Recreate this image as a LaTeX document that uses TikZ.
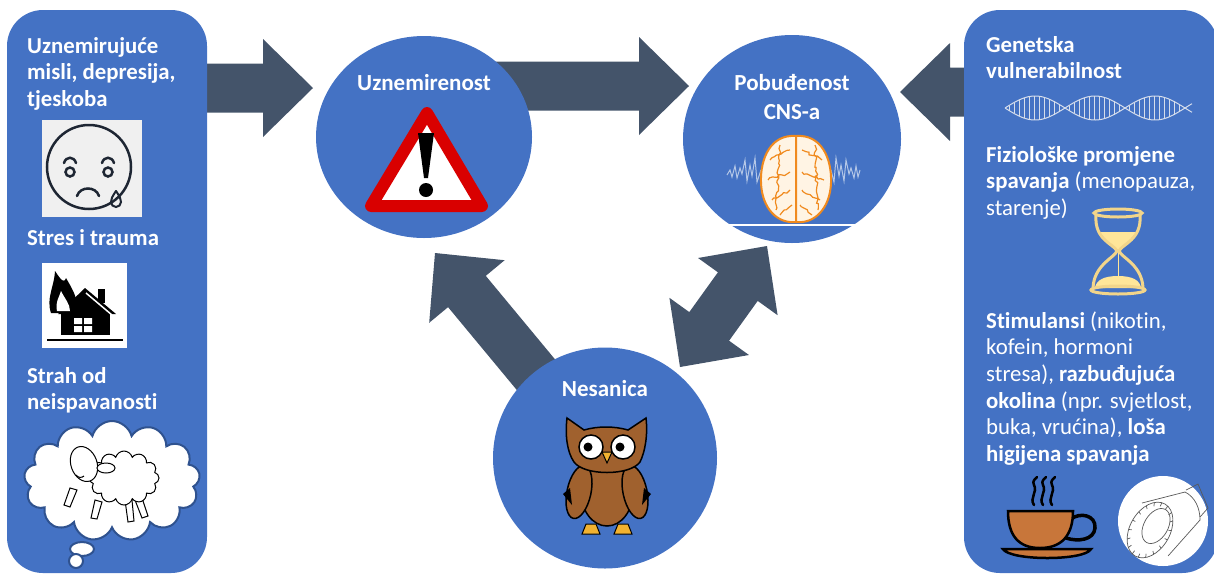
\documentclass[tikz,border=0pt]{standalone}
\usepackage{fontspec}
\setmainfont{Carlito}[Ligatures=NoCommon]
\usetikzlibrary{positioning, calc, backgrounds, shapes.geometric, shapes.symbols, decorations.pathmorphing}

\definecolor{boxblue}{HTML}{4472C4}
\definecolor{arrowgray}{HTML}{44546A}
\definecolor{cloudline}{HTML}{2F528F}
\definecolor{warnred}{HTML}{D90000}
\definecolor{faceline}{HTML}{1E2633}
\definecolor{owlbrown}{HTML}{A0612E}
\definecolor{owlbeak}{HTML}{F2B230}
\definecolor{cupbrown}{HTML}{C8763A}
\definecolor{sand}{HTML}{FFE699}
\definecolor{sandline}{HTML}{F2D58A}
\definecolor{brainorange}{HTML}{F08A1E}
\definecolor{brainfill}{HTML}{FFF4E4}
\definecolor{wavecol}{HTML}{B4C7E7}
\definecolor{dnacol}{HTML}{D6DEEC}

\tikzstyle{sidebox} = [fill=boxblue, rectangle, rounded corners=36pt, inner sep=0pt]
\tikzstyle{bubble} = [fill=boxblue, ellipse, inner sep=0pt]
\tikzstyle{boxtext} = [text=white, inner sep=0pt, anchor=base west, font=\fontsize{22.8}{26.7}\selectfont]
\tikzstyle{bubbletext} = [text=white, inner sep=0pt, anchor=base, align=center, font=\bfseries\fontsize{23}{29}\selectfont]
\tikzstyle{blockarrow} = [fill=arrowgray, to path={
    ($(\tikztotarget)!50pt!(\tikztostart)$) coordinate (hb)
    ($(\tikztostart)!24.5pt!90:(\tikztotarget)$) -- ($(hb)!24.5pt!90:(\tikztotarget)$)
    -- ($(hb)!49pt!90:(\tikztotarget)$) -- (\tikztotarget) -- ($(hb)!49pt!-90:(\tikztotarget)$)
    -- ($(hb)!24.5pt!-90:(\tikztotarget)$) -- ($(\tikztostart)!24.5pt!-90:(\tikztotarget)$) -- cycle}]
\tikzstyle{dblarrow} = [fill=arrowgray, to path={
    ($(\tikztostart)!50pt!(\tikztotarget)$) coordinate (hba)
    ($(\tikztotarget)!50pt!(\tikztostart)$) coordinate (hbb)
    (\tikztostart) -- ($(hba)!49pt!90:(\tikztotarget)$) -- ($(hba)!24.5pt!90:(\tikztotarget)$)
    -- ($(hbb)!24.5pt!90:(\tikztotarget)$) -- ($(hbb)!49pt!90:(\tikztotarget)$) -- (\tikztotarget)
    -- ($(hbb)!49pt!-90:(\tikztotarget)$) -- ($(hbb)!24.5pt!-90:(\tikztotarget)$)
    -- ($(hba)!24.5pt!-90:(\tikztotarget)$) -- ($(hba)!49pt!-90:(\tikztotarget)$) -- cycle}]

\begin{document}
\begin{tikzpicture}[x=1pt, y=-1pt]
  \useasboundingbox (0,0) rectangle (1214,574);

  % side panels and the three circles
  \node[sidebox, minimum width=200pt, minimum height=563pt] (risk) at (107,291.5) {};
  \node[sidebox, minimum width=254pt, minimum height=563pt] (cause) at (1091,291.5) {};
  \node[bubble, minimum width=216pt, minimum height=202pt] (uzn) at (424,137) {};
  \node[bubble, minimum width=218pt, minimum height=208pt] (pob) at (792,139) {};
  \node[bubble, minimum width=224pt, minimum height=221pt] (nes) at (605,458) {};

  \coordinate (tipuzn) at (313,88);
  \coordinate (tippob) at (689,86);
  \coordinate (tipcns) at (900,92);
  \coordinate (tipback) at (435,253);
  \coordinate (tiplow) at (680,367);
  \coordinate (tipup) at (767,246);

  \begin{scope}[on background layer]
    \path[blockarrow] (risk.east |- tipuzn) to (tipuzn);
    \path[blockarrow] (uzn.center |- tippob) to (tippob);
    \path[blockarrow] (cause.west |- tipcns) to (tipcns);
    \path[blockarrow] (nes.center) to (tipback);
    \path[dblarrow] (tiplow) to (tipup);
  \end{scope}

  % texts
  \node[boxtext] (risktxt) at (27,53) {\begin{minipage}[t]{180pt}\bfseries
    Uznemirujuće\\misli, depresija,\\tjeskoba\end{minipage}};
  \node[boxtext] (stresstxt) at (27,245) {\begin{minipage}[t]{180pt}\bfseries
    Stres i trauma\end{minipage}};
  \node[boxtext] (feartxt) at (27,383) {\begin{minipage}[t]{180pt}\bfseries
    Strah od\\neispavanosti\end{minipage}};
  \node[boxtext] (genetxt) at (986,52) {\begin{minipage}[t]{225pt}\bfseries
    Genetska\\vulnerabilnost\end{minipage}};
  \node[boxtext] (fiztxt) at (986,162) {\begin{minipage}[t]{225pt}
    \textbf{Fiziološke promjene}\\\textbf{spavanja} (menopauza,\\starenje)\end{minipage}};
  \node[boxtext] (stimtxt) at (986,328) {\begin{minipage}[t]{225pt}
    \textbf{Stimulansi} (nikotin,\\kofein, hormoni\\stresa), \textbf{razbuđujuća}\\
    \textbf{okolina} (npr. svjetlost,\\buka, vrućina), \textbf{loša}\\
    \textbf{higijena spavanja}\end{minipage}};

  \node[bubbletext] (uzntxt) at ([yshift=-55pt]uzn.north) {Uznemirenost};
  \node[bubbletext] (pobtxt) at ([yshift=-85pt]pob.north) {Pobuđenost\\CNS-a};
  \node[bubbletext] (nestxt) at ([yshift=-49.5pt]nes.north) {Nesanica};

  % sad face
  \fill[gray!12] (42,120) rectangle (142,217);
  \begin{scope}[faceline, line width=2.5pt, line cap=round]
    \draw (89,167) circle (42pt);
    \draw (70,172) circle (4.5pt) (108,172) circle (4.5pt);
    \draw (64,163) .. controls (66,156) and (74,156) .. (76,163);
    \draw (102,163) .. controls (104,156) and (112,156) .. (114,163);
    \draw (77,196) .. controls (80,186) and (96,186) .. (99,196);
    \draw[line width=2pt] (116,191) .. controls (112,197) and (111,199) .. (111,202)
      arc[start angle=180, end angle=360, radius=5pt] .. controls (121,199) and (120,197) .. (116,191);
  \end{scope}

  % burning house
  \fill[white] (42,263) rectangle (127,348);
  \fill (58,314) -- (85,288) -- (116,314) -- cycle;
  \fill (98,289) rectangle (105,303);
  \fill (61,312) rectangle (110,335);
  \fill[white] (74,318) rectangle (82,324) (84,318) rectangle (92,324)
    (74,326) rectangle (82,332) (84,326) rectangle (92,332);
  \draw[white, line width=1.5pt] (86,293) -- (112,315);
  \draw[line width=1.5pt] (47,340) -- (123,340);
  \fill (51,313) .. controls (46,298) and (54,288) .. (55,271) .. controls (61,280) and (64,284) .. (66,278)
    .. controls (73,290) and (79,300) .. (77,313) -- cycle;
  \fill[white] (57,311) .. controls (55,302) and (59,298) .. (61,291) .. controls (65,299) and (70,304) .. (70,311) -- cycle;

  % cloud with sheep
  \node[cloud, cloud puffs=13, aspect=1.5, draw=cloudline, line width=2pt, fill=white,
    minimum width=176pt, minimum height=120pt, inner sep=0pt] (sheepcloud) at (112,481) {};
  \draw[cloudline, line width=2pt, fill=white] (82,549) ellipse (12pt and 7pt);
  \draw[cloudline, line width=2pt, fill=white] (76,561) circle (7pt);
  \begin{scope}[black, line width=1pt, fill=white]
    \draw[fill=white] (70,488) -- (64,505) -- (70,507) -- (77,490) -- cycle;
    \draw[fill=white] (95,500) -- (91,518) -- (97,519) -- (102,502) -- cycle;
    \draw[fill=white] (125,500) -- (128,522) -- (134,521) -- (132,500) -- cycle;
    \draw[fill=white] (135,500) -- (142,518) -- (148,516) -- (142,498) -- cycle;
    \node[cloud, cloud puffs=12, draw, fill=white, line width=1pt, minimum width=70pt,
      minimum height=54pt, inner sep=0pt] (sheepbody) at (124,478) {};
    \draw[fill=white, rotate around={20:(84,464)}] (84,464) ellipse (13pt and 18pt);
    \draw[fill=white] (106,468) ellipse (9pt and 5pt);
    \fill (80,460) circle (1pt) (88,458) circle (1pt);
    \draw (76,475) .. controls (78,478) and (82,478) .. (84,476);
  \end{scope}

  % warning sign
  \draw[warnred, line width=12pt, line join=round, fill=white] (427,113) -- (482,206) -- (371,206) -- cycle;
  \fill (418,133) -- (434,133) -- (428,178) -- (424,178) -- cycle;
  \fill (426,190) circle (7pt);

  % brain
  \draw[wavecol, line width=1pt] (727,175) -- (730,170) -- (732,177) -- (735,166) -- (737,178) -- (740,168)
    -- (742,174) -- (745,160) -- (747,181) -- (750,165) -- (752,176) -- (755,158) -- (757,182) -- (761,170);
  \draw[wavecol, line width=1pt] (831,170) -- (834,182) -- (836,158) -- (839,176) -- (841,165) -- (844,181)
    -- (846,160) -- (849,174) -- (851,168) -- (854,178) -- (856,166) -- (858,177) -- (860,170);
  \begin{scope}[brainorange, line width=2pt, fill=brainfill]
    \draw[fill=brainfill] (796,136) .. controls (771,134) and (760,158) .. (761,183)
      .. controls (762,208) and (777,224) .. (796,222) -- cycle;
    \draw[fill=brainfill] (796,136) .. controls (821,134) and (832,158) .. (831,183)
      .. controls (830,208) and (815,224) .. (796,222) -- cycle;
    \draw[line width=1.2pt, decorate, decoration={random steps, segment length=3pt, amplitude=1.6pt}]
      (770,160) -- (790,150) (768,180) -- (790,172) (772,200) -- (790,190) (780,215) -- (792,205)
      (802,150) -- (822,160) (802,172) -- (824,180) (802,190) -- (820,200) (800,205) -- (812,215)
      (780,145) -- (776,210) (815,145) -- (818,210);
  \end{scope}
  \draw[white, line width=2pt] (727,225) -- (860,225);

  % owl
  \begin{scope}[line width=1.5pt]
    \draw[fill=owlbrown] (607,492) ellipse (26pt and 34pt);
    \draw[fill=owlbrown, rotate around={-12:(579,492)}] (579,492) ellipse (12pt and 27pt);
    \draw[fill=owlbrown, rotate around={12:(635,492)}] (635,492) ellipse (12pt and 27pt);
    \fill (563,494) -- (570,488) -- (572,505) -- cycle (651,494) -- (644,488) -- (642,505) -- cycle;
    \draw[fill=owlbrown] (567,418) -- (584,430) .. controls (598,426) and (614,426) .. (628,430) -- (646,418)
      .. controls (648,435) and (645,452) .. (640,462) .. controls (630,476) and (584,476) .. (574,462)
      .. controls (567,452) and (565,435) .. (567,418) -- cycle;
    \draw[fill=white] (591,447) circle (12pt) (623,447) circle (12pt);
    \fill (588,447) circle (4.5pt) (620,447) circle (4.5pt);
    \draw[fill=owlbeak, line width=1pt] (602,452) -- (612,452) -- (607,463) -- cycle;
    \draw[fill=owlbeak, line width=1pt] (582,534) -- (586,524) -- (596,524) -- (600,534) -- cycle;
    \draw[fill=owlbeak, line width=1pt] (614,534) -- (618,524) -- (628,524) -- (632,534) -- cycle;
  \end{scope}

  % DNA helix
  \draw[dnacol, line width=1pt, domain=1005:1192, samples=90] plot (\x, {108+12*sin((\x-1005)*3)});
  \draw[dnacol, line width=1pt, domain=1005:1192, samples=90] plot (\x, {108-12*sin((\x-1005)*3)});
  \foreach \x in {1009,1014,...,1188}
    \draw[dnacol, line width=0.6pt] (\x, {108+12*sin((\x-1005)*3)}) -- (\x, {108-12*sin((\x-1005)*3)});

  % hourglass
  \fill[sand] (1100,232) .. controls (1106,242) and (1113,246) .. (1117,252) .. controls (1121,246) and (1130,242) .. (1136,232) -- cycle;
  \fill[sand] (1095,288) .. controls (1096,280) and (1104,276) .. (1118,276) .. controls (1132,276) and (1140,280) .. (1141,288) -- cycle;
  \draw[sand, line width=1pt] (1118,252) -- (1118,276);
  \begin{scope}[sandline, line width=3pt]
    \draw (1096,215) .. controls (1094,240) and (1114,244) .. (1117,251) .. controls (1114,258) and (1094,265) .. (1093,288);
    \draw (1140,215) .. controls (1142,240) and (1122,244) .. (1119,251) .. controls (1122,258) and (1142,265) .. (1143,288);
    \draw (1118,213) ellipse (24pt and 4pt);
    \draw (1118,290) ellipse (27pt and 4pt);
  \end{scope}

  % coffee cup
  \begin{scope}[line width=2.5pt, line cap=round]
    \draw (1034,505) .. controls (1029,498) and (1038,492) .. (1034,485) .. controls (1032,481) and (1035,479) .. (1037,477);
    \draw (1043,505) .. controls (1038,498) and (1047,492) .. (1043,485) .. controls (1041,481) and (1044,479) .. (1046,477);
    \draw (1052,505) .. controls (1047,498) and (1056,492) .. (1052,485) .. controls (1050,481) and (1053,479) .. (1055,477);
    \draw[line width=3.5pt] (1071,519) .. controls (1080,512) and (1096,515) .. (1095,528) .. controls (1094,540) and (1078,542) .. (1066,538);
    \draw[fill=cupbrown] (1008,511) -- (1073,511) .. controls (1073,535) and (1062,548) .. (1040,548)
      .. controls (1018,548) and (1008,535) .. (1008,511) -- cycle;
    \draw[fill=cupbrown] (1003,549) -- (1091,549) .. controls (1085,561) and (1010,561) .. (1003,549) -- cycle;
  \end{scope}

  % light bulb
  \fill[white] (1163,521) circle (45pt);
  \begin{scope}[gray!70!black, line width=0.7pt]
    \draw[rotate around={-30:(1150,530)}] (1150,530) ellipse (20pt and 30pt);
    \draw[rotate around={-30:(1156,526)}] (1156,526) ellipse (12pt and 19pt);
    \draw (1142,503) -- (1185,492) (1168,556) -- (1200,520);
    \draw (1185,492) .. controls (1195,497) and (1200,508) .. (1200,520);
    \draw (1186,490) -- (1198,484) -- (1208,508) -- (1200,517);
    \foreach \a in {0,20,...,340}
      \draw[rotate around={-30:(1150,530)}] ($(1150,530)+(\a:17pt and 26pt)$) -- ($(1150,530)+(\a:20pt and 30pt)$);
  \end{scope}
\end{tikzpicture}
\end{document}
